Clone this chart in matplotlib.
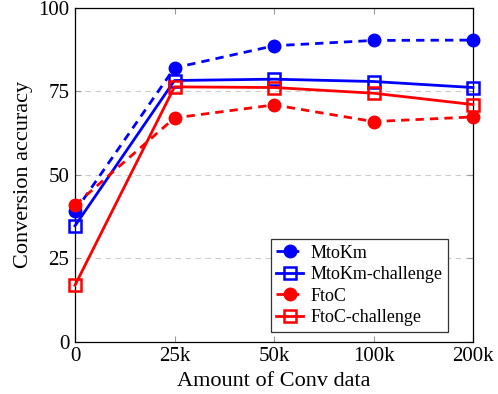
import matplotlib.pyplot as plt
import numpy as np

plt.rcParams['font.family'] = ['Liberation Serif', 'DejaVu Serif']
plt.rcParams['mathtext.fontset'] = 'stix'

# dados
rotulos_x = ["0", "25k", "50k", "100k", "200k"]
mtokm = [39.0, 82.0, 88.6, 90.2, 90.3]
mtokm_challenge = [34.7, 78.2, 78.6, 77.9, 76.1]
ftoc = [40.9, 67.0, 70.9, 65.9, 67.3]
ftoc_challenge = [16.9, 76.3, 76.1, 74.4, 71.0]

series = [
    ("MtoKm", mtokm, "blue", "--", "o"),
    ("MtoKm-challenge", mtokm_challenge, "blue", "-", "s"),
    ("FtoC", ftoc, "red", "--", "o"),
    ("FtoC-challenge", ftoc_challenge, "red", "-", "s"),
]

fig = plt.figure(figsize=(4.98, 3.94), dpi=100)
ax = fig.add_axes([75 / 498, 1 - 341.7 / 394, 398 / 498, 334 / 394])

x = np.arange(len(rotulos_x))
for nome, valores, cor, estilo, marcador in series:
    if marcador == "o":
        ax.plot(x, valores, color=cor, linestyle=estilo, linewidth=2,
                marker="o", markersize=9, markerfacecolor=cor,
                markeredgecolor=cor, dashes=(3, 2.2), label=nome,
                zorder=3, clip_on=False)
    else:
        ax.plot(x, valores, color=cor, linestyle=estilo, linewidth=2,
                marker="s", markersize=8, markerfacecolor="none",
                markeredgecolor=cor, markeredgewidth=1.8, label=nome,
                zorder=3, clip_on=False)

ax.set_xlim(0, 4)
ax.set_ylim(0, 100)
ax.set_xticks(x)
ax.set_xticklabels(rotulos_x)
ax.set_yticks([0, 25, 50, 75, 100])
ax.tick_params(direction="in", top=True, right=True, labelsize=15,
               color="#999999", length=4, pad=4)
for s in ax.spines.values():
    s.set_linewidth(0.9)

# grade horizontal tracejada
for yv in [25, 50, 75]:
    ax.axhline(yv, color="#cccccc", linestyle=(0, (5, 4)), linewidth=0.8, zorder=1)

ax.set_xlabel("Amount of Conv data", fontsize=16, labelpad=4)
ax.set_ylabel("Conversion accuracy", fontsize=16, labelpad=4)

leg = ax.legend(loc="lower right", bbox_to_anchor=(0.937, 0.03), fontsize=13,
                fancybox=False, edgecolor="#333333", framealpha=1,
                handlelength=1.5, borderpad=0.3, labelspacing=0.25,
                handletextpad=0.4, borderaxespad=0)
leg.get_frame().set_linewidth(0.9)

fig.savefig("out.png", dpi=100)
